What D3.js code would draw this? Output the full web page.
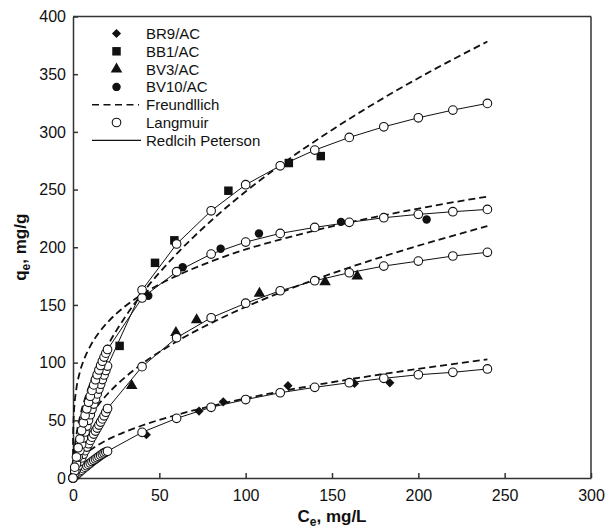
<!DOCTYPE html>
<html>
<head>
<meta charset="utf-8">
<script src="https://cdn.jsdelivr.net/npm/d3@7"></script>
<style>
  body { margin: 0; background: #fff; }
  svg { font-family: "Liberation Sans", Arial, sans-serif; }
</style>
</head>
<body>
<svg id="chart" width="610" height="532"></svg>
<script>
// experimental points [Ce, qe]
const br9 = [[42.5, 37.5], [73, 58], [87, 66], [124.5, 80], [163, 82], [183.5, 82.5]];
const bb1 = [[27, 114.5], [47.5, 186.5], [58.7, 206], [90, 249], [125, 273], [143.5, 279]];
const bv3 = [[34, 80], [59.6, 126], [71.6, 137], [108, 160], [146, 170], [164.6, 175]];
const bv10 = [[43.6, 158], [63.5, 182.6], [85.5, 198.7], [107.7, 212], [155.2, 222], [204.8, 224]];

// model x values
const modelX = [0, 1, 2, 3, 4, 5, 6, 7, 8, 9, 10, 11, 12, 13, 14, 15, 16, 17, 18, 19, 20,
  40, 60, 80, 100, 120, 140, 160, 180, 200, 220, 240];
// Langmuir / Redlich-Peterson values (open circles + solid line)
const langBR9 = [0, 1.4, 2.8, 4.2, 5.5, 6.8, 8.1, 9.4, 10.6, 11.8, 13.0, 14.2, 15.3, 16.4, 17.5, 18.6, 19.7, 20.7, 21.7, 22.5, 23.2,
  39.6, 51.7, 61.3, 68, 73.9, 78.6, 82.6, 86.4, 89.5, 91.6, 94.5];
const langBV3 = [0, 3.7, 7.3, 10.7, 14.2, 17.4, 20.6, 23.7, 26.8, 29.7, 32.6, 35.4, 38.1, 40.7, 43.3, 45.9, 48.5, 51.2, 53.9, 57, 60.2,
  96.5, 121.6, 138.9, 151.5, 162.3, 171, 177.9, 183.7, 188, 192.4, 195.6];
const langBB1 = [0, 6.2, 12.2, 18.1, 23.8, 29.3, 34.7, 39.9, 45, 50, 54.8, 59.5, 64.1, 68.5, 72.9, 77.1, 81.3, 85.3, 89.3, 93.2, 97,
  162.9, 202.8, 231.6, 254.2, 270.6, 284.2, 295.2, 304.4, 312.2, 318.9, 324.7];
const langBV10 = [0, 9.4, 18.1, 26.2, 33.9, 41.1, 47.8, 54.1, 60, 65.6, 70.9, 75.9, 80.7, 85.2, 89.5, 93.6, 97.5, 101.2, 104.8, 108.2, 111.4,
  156, 178.8, 194.1, 204.5, 212, 217.2, 221.6, 225.6, 228.5, 230.8, 232.8];

// Freundlich curves (dashed)
const freX = [0, 0.02, 0.1, 0.3, 0.6, 1, 2, 4, 7, 10, 15, 20, 30, 40, 60, 80, 100, 120, 150, 180, 210, 240];
const freBR9 = [0, 1.4, 3.0, 4.9, 6.7, 8.5, 11.6, 16.0, 20.6, 24.2, 29.1, 33.2, 39.9, 45.5, 54.7, 62.3, 69, 75, 83, 90.2, 96.7, 102.8];
const freBV3 = [0, 3.4, 7.0, 11.4, 15.5, 19.4, 26.3, 35.8, 45.8, 53.6, 64.1, 72.8, 87.1, 98.9, 118.3, 134.3, 148.3, 160.7, 177.3, 192.2, 205.7, 218.3];
const freBB1 = [0, 4.1, 8.9, 15.2, 21.2, 27.1, 37.8, 52.8, 69.1, 82, 99.7, 114.5, 139.1, 159.8, 194.2, 223, 248.3, 271, 301.7, 329.5, 354.8, 378.3];
const freBV10 = [0, 26, 38.1, 49.5, 58.4, 66, 77.9, 91.9, 105, 114.3, 125.9, 134.9, 148.6, 159.1, 175.2, 187.7, 198.1, 206.7, 218.1, 227.7, 236.3, 243.9];

const xTicks = [0, 50, 100, 150, 200, 250, 300];
const yTicks = [0, 50, 100, 150, 200, 250, 300, 350, 400];
const legendNames = ["BR9/AC", "BB1/AC", "BV3/AC", "BV10/AC", "Freundllich", "Langmuir", "Redlcih Peterson"];

const svg = d3.select("#chart");
const x = d3.scaleLinear().domain([0, 300]).range([73, 591]);
const y = d3.scaleLinear().domain([0, 400]).range([478, 16.5]);
const ink = "#111";

// axes (inward ticks)
const xAxis = svg.append("g").attr("transform", "translate(0," + y(0) + ")")
  .call(d3.axisBottom(x).tickValues(xTicks).tickSizeInner(-5).tickSizeOuter(0).tickPadding(12));
const yAxis = svg.append("g").attr("transform", "translate(" + x(0) + ",0)")
  .call(d3.axisLeft(y).tickValues(yTicks).tickSizeInner(-5).tickSizeOuter(0).tickPadding(7));
[xAxis, yAxis].forEach(function(a) {
  a.selectAll("path, line").attr("stroke", "#333").attr("stroke-width", 1.5);
  a.selectAll("text").attr("fill", ink).style("font-size", "16px")
    .style("font-family", "'Liberation Sans', Arial, sans-serif");
});
// frame top and right
svg.append("line").attr("x1", x(0)).attr("x2", x(300)).attr("y1", y(400)).attr("y2", y(400))
  .attr("stroke", "#333").attr("stroke-width", 1.5);
svg.append("line").attr("x1", x(300)).attr("x2", x(300)).attr("y1", y(400)).attr("y2", y(0))
  .attr("stroke", "#333").attr("stroke-width", 1.5);

// axis titles
const xt = svg.append("text").attr("x", (x(0) + x(300)) / 2).attr("y", 522)
  .attr("text-anchor", "middle").style("font-size", "17px").style("font-weight", "bold").attr("fill", ink);
xt.append("tspan").text("C");
xt.append("tspan").attr("dy", 4).style("font-size", "12px").text("e");
xt.append("tspan").attr("dy", -4).text(", mg/L");

const yt = svg.append("text").attr("transform", "translate(26," + y(200) + ") rotate(-90)")
  .attr("text-anchor", "middle").style("font-size", "17px").style("font-weight", "bold").attr("fill", ink);
yt.append("tspan").text("q");
yt.append("tspan").attr("dy", 4).style("font-size", "12px").text("e");
yt.append("tspan").attr("dy", -4).text(", mg/g");

// experimental markers
const square = d3.symbol().type(d3.symbolSquare).size(72);
const diamond = d3.symbol().type(d3.symbolSquare).size(42);
const triangle = d3.symbol().type(d3.symbolTriangle).size(58);
const circle = d3.symbol().type(d3.symbolCircle).size(56);
const expSets = [[br9, diamond, 45], [bb1, square, 0], [bv3, triangle, 0], [bv10, circle, 0]];
expSets.forEach(function(s) {
  svg.append("g").selectAll("path").data(s[0]).enter().append("path")
    .attr("d", s[1])
    .attr("transform", function(d) { return "translate(" + x(d[0]) + "," + y(d[1]) + ") rotate(" + s[2] + ")"; })
    .attr("fill", ink);
});

// Freundlich dashed
const freLine = d3.line().curve(d3.curveMonotoneX)
  .x(function(d, i) { return x(freX[i]); })
  .y(function(d) { return y(d); });
[freBR9, freBV3, freBB1, freBV10].forEach(function(s) {
  svg.append("path").attr("d", freLine(s)).attr("fill", "none")
    .attr("stroke", ink).attr("stroke-width", 1.8).attr("stroke-dasharray", "7,4");
});

// Redlich-Peterson solid + Langmuir circles
const modLine = d3.line()
  .x(function(d, i) { return x(modelX[i]); })
  .y(function(d) { return y(d); });
[langBR9, langBV3, langBB1, langBV10].forEach(function(s) {
  svg.append("path").attr("d", modLine(s)).attr("fill", "none")
    .attr("stroke", ink).attr("stroke-width", 1);
});
[langBR9, langBV3, langBB1, langBV10].forEach(function(s) {
  svg.append("g").selectAll("circle").data(s).enter().append("circle")
    .attr("cx", function(d, i) { return x(modelX[i]); })
    .attr("cy", function(d) { return y(d); })
    .attr("r", 4.3)
    .attr("fill", "#fff").attr("stroke", ink).attr("stroke-width", 1.1);
});

// legend
const lg = svg.append("g");
const rowY = function(i) { return 33.5 + i * 17.8; };
const legendSyms = [[diamond, 45], [square, 0], [triangle, 0], [circle, 0]];
legendSyms.forEach(function(sym, i) {
  lg.append("path").attr("d", sym[0])
    .attr("transform", "translate(116.5," + rowY(i) + ") rotate(" + sym[1] + ")").attr("fill", ink);
});
lg.append("line").attr("x1", 92).attr("x2", 139).attr("y1", rowY(4)).attr("y2", rowY(4))
  .attr("stroke", ink).attr("stroke-width", 1.6).attr("stroke-dasharray", "7,4.5");
lg.append("circle").attr("cx", 116.5).attr("cy", rowY(5)).attr("r", 4.3)
  .attr("fill", "#fff").attr("stroke", ink).attr("stroke-width", 1.1);
lg.append("line").attr("x1", 92).attr("x2", 141).attr("y1", rowY(6)).attr("y2", rowY(6))
  .attr("stroke", ink).attr("stroke-width", 1.2);
lg.selectAll("text.lbl").data(legendNames).enter().append("text")
  .attr("class", "lbl")
  .attr("x", 146).attr("y", function(d, i) { return rowY(i) + 5.5; })
  .style("font-size", "15px").attr("fill", ink)
  .text(function(d) { return d; });
</script>
</body>
</html>
